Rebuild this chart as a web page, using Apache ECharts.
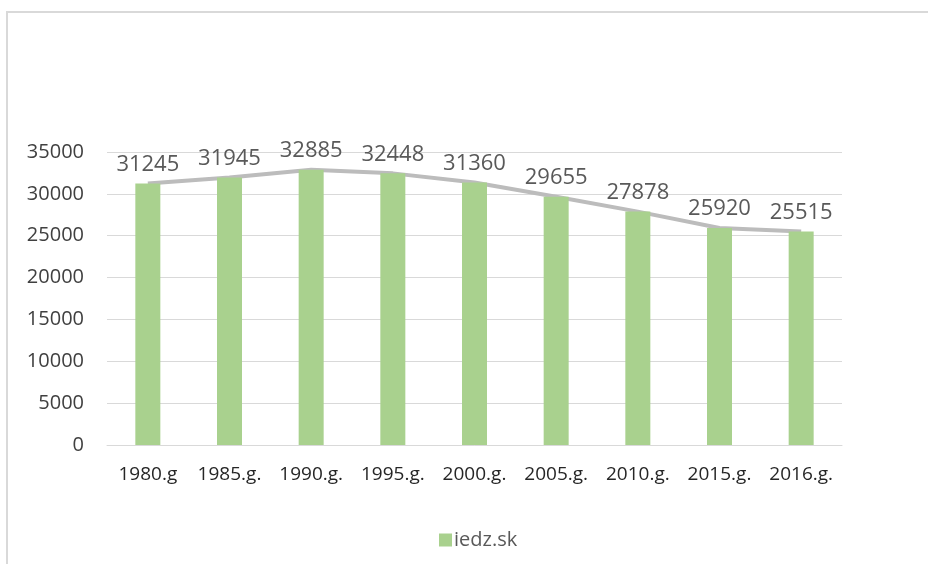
<!DOCTYPE html>
<html>
<head>
<meta charset="utf-8">
<script src="https://cdn.jsdelivr.net/npm/echarts@6/dist/echarts.min.js"></script>
<style>
  html, body { margin: 0; padding: 0; background: #fff; }
  #chart { width: 928px; height: 564px; }
</style>
</head>
<body>
<div id="chart"></div>
<script>
  // data
  const years = ['1980.g', '1985.g.', '1990.g.', '1995.g.', '2000.g.', '2005.g.', '2010.g.', '2015.g.', '2016.g.']
  const people = [31245, 31945, 32885, 32448, 31360, 29655, 27878, 25920, 25515]
  const yTicks = [0, 5000, 10000, 15000, 20000, 25000, 30000, 35000]

  const font = '"Open Sans", "Noto Sans", sans-serif'
  const chart = echarts.init(document.getElementById('chart'))

  const option = {
    animation: false,
    textStyle: { fontFamily: font },
    // outer frame of the chart area
    graphic: [{
      type: 'rect',
      shape: { x: 7, y: 12, width: 1000, height: 1000 },
      style: { fill: 'none', stroke: '#d9d9d9', lineWidth: 2 },
      silent: true
    }],
    grid: { left: 107, right: 86, top: 152, bottom: 119 },
    legend: {
      left: 434,
      top: 525,
      icon: 'rect',
      itemWidth: 13,
      itemHeight: 13,
      itemGap: 4,
      data: ['iedz.sk'],
      textStyle: { color: '#595959', fontSize: 20, fontFamily: font, padding: [0, 0, 0, -3] }
    },
    xAxis: {
      type: 'category',
      data: years,
      axisLine: { lineStyle: { color: '#d9d9d9', width: 1 } },
      axisTick: { show: false },
      axisLabel: { color: '#262626', fontSize: 19, margin: 20, interval: 0, fontFamily: font }
    },
    yAxis: {
      type: 'value',
      min: yTicks[0],
      max: yTicks[yTicks.length - 1],
      interval: 5000,
      axisLine: { show: false },
      axisTick: { show: false },
      splitLine: { lineStyle: { color: '#d9d9d9', width: 1 } },
      axisLabel: {
        color: '#404040',
        fontSize: 20,
        margin: 23,
        fontFamily: font,
        formatter: v => String(v)
      }
    },
    series: [{
      name: 'iedz.sk',
      type: 'bar',
      data: people,
      barWidth: 25,
      itemStyle: { color: '#a9d18e' },
      label: {
        show: true,
        position: 'top',
        distance: 8,
        color: '#595959',
        fontSize: 22,
        fontFamily: font
      }
    }, {
      name: 'line',
      type: 'line',
      data: people,
      symbol: 'none',
      lineStyle: { color: '#bcbcbc', width: 4 },
      z: 1
    }]
  }
  chart.setOption(option)
</script>
</body>
</html>
